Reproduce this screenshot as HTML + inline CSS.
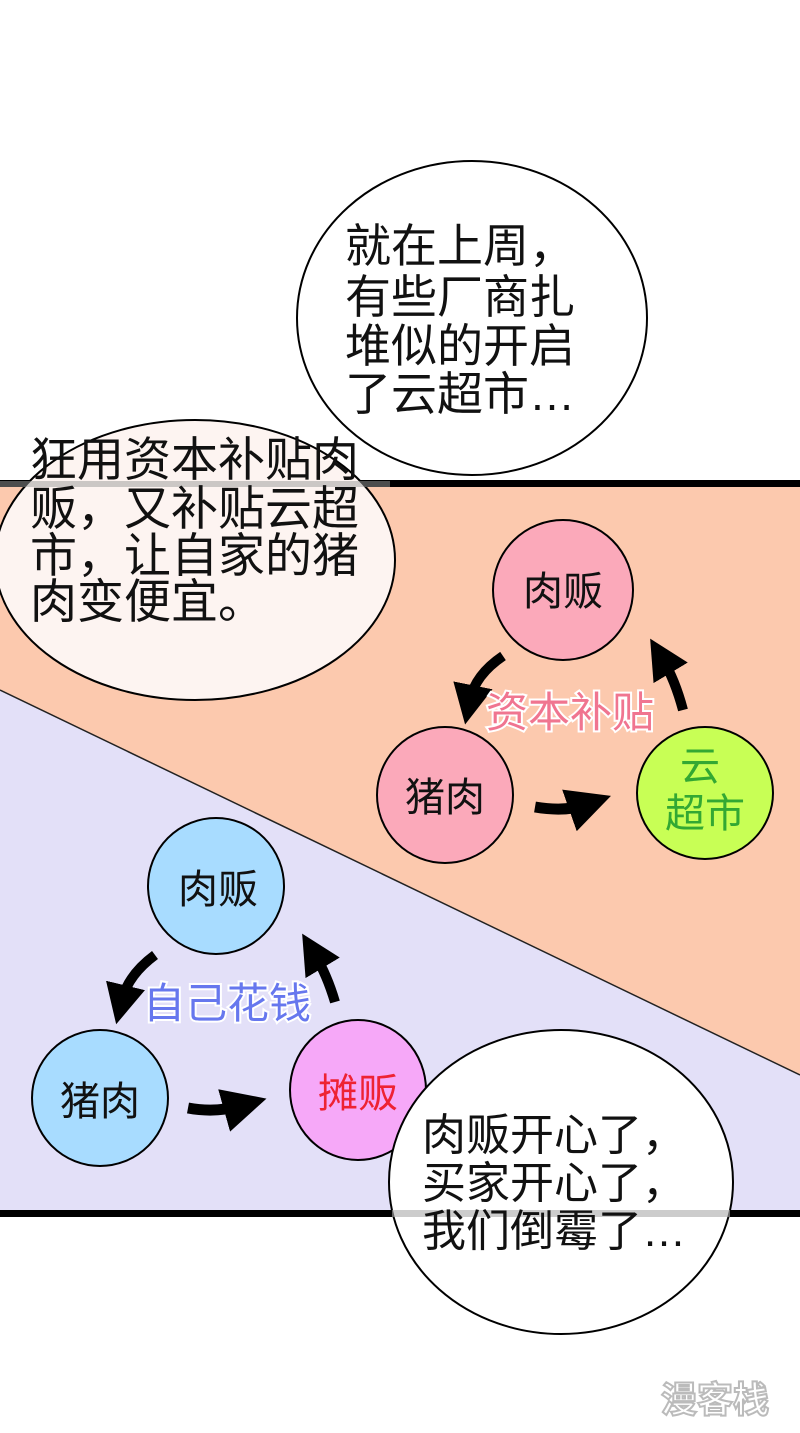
<!DOCTYPE html>
<html><head><meta charset="utf-8"><style>
html,body{margin:0;padding:0;background:#fff;}
svg{display:block}
text{font-family:"Liberation Sans","Noto Sans CJK SC",sans-serif;}
</style></head><body>
<svg width="800" height="1433" viewBox="0 0 800 1433" xmlns="http://www.w3.org/2000/svg">
<defs>
<marker id="ah" markerWidth="4" markerHeight="4" refX="1.5" refY="2" orient="auto" markerUnits="strokeWidth">
<path d="M0,0 L4,2 L0,4 z" fill="#000"/></marker>
</defs>
<rect width="800" height="1433" fill="#fff"/>
<!-- panel -->
<polygon points="0,486 800,486 800,1075 0,690" fill="#fcc9ae"/>
<polygon points="0,690 800,1075 800,1212 0,1212" fill="#e3e0f8"/>
<line x1="0" y1="690" x2="800" y2="1075" stroke="#222" stroke-width="1.5"/>
<rect x="0" y="480" width="800" height="7" fill="#000"/>
<rect x="0" y="1210" width="800" height="7" fill="#000"/>

<!-- top bubble -->
<ellipse cx="472" cy="318" rx="175" ry="157" fill="#fff" stroke="#000" stroke-width="2"/>
<g font-size="46" fill="#111">
<text x="345" y="262">就在上周，</text>
<text x="345" y="313">有些厂商扎</text>
<text x="345" y="362">堆似的开启</text>
<text x="345" y="410">了云超市…</text>
</g>

<!-- left bubble -->
<ellipse cx="195" cy="560" rx="200" ry="140" fill="#fdf4f1" stroke="#000" stroke-width="2"/>
<rect x="0" y="481" width="390" height="6" fill="#999" opacity="0.5"/>
<g font-size="47" fill="#111">
<text x="30" y="476">狂用资本补贴肉</text>
<text x="30" y="525">贩，又补贴云超</text>
<text x="30" y="572">市，让自家的猪</text>
<text x="30" y="618">肉变便宜。</text>
</g>

<!-- top diagram -->
<ellipse cx="563" cy="590" rx="70" ry="70" fill="#fba9ba" stroke="#000" stroke-width="2"/>
<ellipse cx="445" cy="795" rx="68" ry="68" fill="#fba9ba" stroke="#000" stroke-width="2"/>
<ellipse cx="705" cy="793" rx="68" ry="66" fill="#c8ff55" stroke="#000" stroke-width="2"/>
<g font-size="40" fill="#111" text-anchor="middle">
<text x="563" y="605">肉贩</text>
<text x="445" y="811">猪肉</text>
</g>
<g font-size="40" fill="#33a833" text-anchor="middle">
<text x="700" y="780">云</text>
<text x="705" y="827">超市</text>
</g>
<path d="M503,656 Q475,675 470,700" fill="none" stroke="#000" stroke-width="10" marker-end="url(#ah)"/>
<path d="M683,710 Q675,680 663,660" fill="none" stroke="#000" stroke-width="10" marker-end="url(#ah)"/>
<path d="M535,807 Q565,812 585,805" fill="none" stroke="#000" stroke-width="11" marker-end="url(#ah)"/>
<text x="570" y="727" font-size="42" fill="#f07590" text-anchor="middle" stroke="#fff" stroke-width="4" paint-order="stroke">资本补贴</text>

<!-- bottom diagram -->
<ellipse cx="216" cy="886" rx="68" ry="68" fill="#a8dcff" stroke="#000" stroke-width="2"/>
<ellipse cx="100" cy="1098" rx="68" ry="68" fill="#a8dcff" stroke="#000" stroke-width="2"/>
<ellipse cx="358" cy="1090" rx="68" ry="70" fill="#f6a8f8" stroke="#000" stroke-width="2"/>
<g font-size="40" fill="#111" text-anchor="middle">
<text x="218" y="903">肉贩</text>
<text x="100" y="1115">猪肉</text>
</g>
<text x="358" y="1107" font-size="40" fill="#ee2233" text-anchor="middle">摊贩</text>
<path d="M155,955 Q128,975 122,1000" fill="none" stroke="#000" stroke-width="10" marker-end="url(#ah)"/>
<path d="M335,1002 Q327,975 315,955" fill="none" stroke="#000" stroke-width="10" marker-end="url(#ah)"/>
<path d="M188,1108 Q215,1113 240,1106" fill="none" stroke="#000" stroke-width="11" marker-end="url(#ah)"/>
<text x="227" y="1018" font-size="42" fill="#6677ee" text-anchor="middle" stroke="#fff" stroke-width="4" paint-order="stroke">自己花钱</text>

<!-- bottom bubble -->
<ellipse cx="561" cy="1182" rx="172" ry="152" fill="#fff" stroke="#000" stroke-width="2"/>
<rect x="392" y="1210" width="338" height="7" fill="#aaa" opacity="0.6"/>
<g font-size="44" fill="#111">
<text x="422" y="1150">肉贩开心了，</text>
<text x="422" y="1198">买家开心了，</text>
<text x="422" y="1246">我们倒霉了…</text>
</g>
<!-- watermark -->
<text x="715" y="1412" font-size="36" font-weight="bold" fill="#fff" stroke="#bbb" stroke-width="2" text-anchor="middle">漫客栈</text>
</svg>
</body></html>
